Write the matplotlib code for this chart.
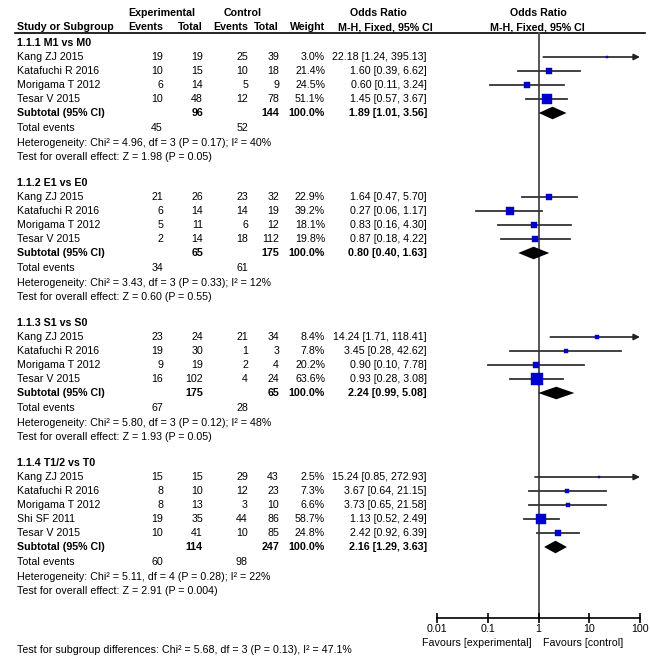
import numpy as np
import matplotlib
matplotlib.use("Agg")
import matplotlib.pyplot as plt

plt.rcParams['font.family'] = ['Liberation Sans', 'DejaVu Sans']

# ---------------- data ----------------
subgroup_titles = ["1.1.1 M1 vs M0", "1.1.2 E1 vs E0", "1.1.3 S1 vs S0", "1.1.4 T1/2 vs T0"]

studies = [
    ["Kang ZJ 2015", "Katafuchi R 2016", "Morigama T 2012", "Tesar V 2015"],
    ["Kang ZJ 2015", "Katafuchi R 2016", "Morigama T 2012", "Tesar V 2015"],
    ["Kang ZJ 2015", "Katafuchi R 2016", "Morigama T 2012", "Tesar V 2015"],
    ["Kang ZJ 2015", "Katafuchi R 2016", "Morigama T 2012", "Shi SF 2011", "Tesar V 2015"],
]
exp_events = [[19, 10, 6, 10], [21, 6, 5, 2], [23, 19, 9, 16], [15, 8, 8, 19, 10]]
exp_total = [[19, 15, 14, 48], [26, 14, 11, 14], [24, 30, 19, 102], [15, 10, 13, 35, 41]]
ctl_events = [[25, 10, 5, 12], [23, 14, 6, 18], [21, 1, 2, 4], [29, 12, 3, 44, 10]]
ctl_total = [[39, 18, 9, 78], [32, 19, 12, 112], [34, 3, 4, 24], [43, 23, 10, 86, 85]]
weights = [[3.0, 21.4, 24.5, 51.1], [22.9, 39.2, 18.1, 19.8], [8.4, 7.8, 20.2, 63.6],
           [2.5, 7.3, 6.6, 58.7, 24.8]]
odds = [[22.18, 1.60, 0.60, 1.45], [1.64, 0.27, 0.83, 0.87], [14.24, 3.45, 0.90, 0.93],
        [15.24, 3.67, 3.73, 1.13, 2.42]]
ci_lo = [[1.24, 0.39, 0.11, 0.57], [0.47, 0.06, 0.16, 0.18], [1.71, 0.28, 0.10, 0.28],
         [0.85, 0.64, 0.65, 0.52, 0.92]]
ci_hi = [[395.13, 6.62, 3.24, 3.67], [5.70, 1.17, 4.30, 4.22], [118.41, 42.62, 7.78, 3.08],
         [272.93, 21.15, 21.58, 2.49, 6.39]]

sub_exp_total = [96, 65, 175, 114]
sub_ctl_total = [144, 175, 65, 247]
sub_or = [1.89, 0.80, 2.24, 2.16]
sub_lo = [1.01, 0.40, 0.99, 1.29]
sub_hi = [3.56, 1.63, 5.08, 3.63]
tot_exp_events = [45, 34, 67, 60]
tot_ctl_events = [52, 61, 28, 98]
heterogeneity = [
    "Heterogeneity: Chi² = 4.96, df = 3 (P = 0.17); I² = 40%",
    "Heterogeneity: Chi² = 3.43, df = 3 (P = 0.33); I² = 12%",
    "Heterogeneity: Chi² = 5.80, df = 3 (P = 0.12); I² = 48%",
    "Heterogeneity: Chi² = 5.11, df = 4 (P = 0.28); I² = 22%",
]
overall = [
    "Test for overall effect: Z = 1.98 (P = 0.05)",
    "Test for overall effect: Z = 0.60 (P = 0.55)",
    "Test for overall effect: Z = 1.93 (P = 0.05)",
    "Test for overall effect: Z = 2.91 (P = 0.004)",
]
subgroup_diff = "Test for subgroup differences: Chi² = 5.68, df = 3 (P = 0.13), I² = 47.1%"
tick_values = [0.01, 0.1, 1, 10, 100]
tick_labels = ["0.01", "0.1", "1", "10", "100"]

# ---------------- layout ----------------
W, H = 650, 665
fig = plt.figure(figsize=(W / 100, H / 100), dpi=100)
ax = fig.add_axes([0, 0, 1, 1])
ax.set_xlim(0, W)
ax.set_ylim(H, 0)
ax.axis('off')

x_L0, x_R0 = 437, 640
fa = fig.add_axes([x_L0 / W, 0, (x_R0 - x_L0) / W, 1])
fa.set_xscale('log')
fa.set_xlim(0.01, 100)
fa.set_ylim(H, 0)
fa.patch.set_alpha(0)
for s in ['left', 'top', 'right']:
    fa.spines[s].set_visible(False)
axis_y = 618
fa.spines['bottom'].set_position(('data', axis_y))
fa.spines['bottom'].set_linewidth(1.2)
fa.set_yticks([])
fa.set_xticks(tick_values)
fa.set_xticklabels(tick_labels)
fa.xaxis.set_minor_locator(matplotlib.ticker.NullLocator())
fa.tick_params(axis='x', direction='inout', length=7, width=1.2, pad=1, labelsize=7.7)

FS = 7.7
col_x = [163, 203, 248, 279, 325, 427]

def t(x, y, s, ha='left', bold=False):
    ax.text(x, y, s, ha=ha, va='center', fontsize=FS,
            fontweight='bold' if bold else 'normal', color='black')

# header
t(162, 13, "Experimental", ha='center', bold=True)
t(243, 13, "Control", ha='center', bold=True)
t(378, 13, "Odds Ratio", ha='center', bold=True)
t(538, 13, "Odds Ratio", ha='center', bold=True)
t(17, 27, "Study or Subgroup", bold=True)
for x, s in zip(col_x[:5], ["Events", "Total", "Events", "Total", "Weight"]):
    t(x, 27, s, ha='right', bold=True)
t(385, 27, "M-H, Fixed, 95% CI", ha='center', bold=True)
t(537, 27, "M-H, Fixed, 95% CI", ha='center', bold=True)
ax.plot([15, 645], [32.5, 32.5], color='black', lw=1.2)

# reference line at OR = 1
fa.plot([1, 1], [32.5, axis_y], color='#555555', lw=1.4, zorder=1)

blue = '#0000CC'
for k in range(4):
    y0 = 43 + 140 * k
    t(17, y0, subgroup_titles[k], bold=True)
    n = len(studies[k])
    for i in range(n):
        y = y0 + 14 * (i + 1)
        t(17, y, studies[k][i])
        t(col_x[0], y, str(exp_events[k][i]), ha='right')
        t(col_x[1], y, str(exp_total[k][i]), ha='right')
        t(col_x[2], y, str(ctl_events[k][i]), ha='right')
        t(col_x[3], y, str(ctl_total[k][i]), ha='right')
        t(col_x[4], y, f"{weights[k][i]:.1f}%", ha='right')
        t(col_x[5], y, f"{odds[k][i]:.2f} [{ci_lo[k][i]:.2f}, {ci_hi[k][i]:.2f}]", ha='right')
        lo, hi = ci_lo[k][i], ci_hi[k][i]
        if hi > 100:
            fa.annotate('', xy=(100, y), xytext=(lo, y),
                        arrowprops=dict(arrowstyle='-|>', color='#222222', lw=1.2,
                                        mutation_scale=9, shrinkA=0, shrinkB=0))
        else:
            fa.plot([lo, hi], [y, y], color='#333333', lw=1.3, zorder=2)
        side_px = 1.38 * np.sqrt(weights[k][i])
        fa.plot([odds[k][i]], [y], marker='s', ms=side_px * 0.72, color=blue,
                mec=blue, mew=0.3, zorder=3)
    ys = y0 + 14 * (n + 1)
    t(17, ys, "Subtotal (95% CI)", bold=True)
    t(col_x[1], ys, str(sub_exp_total[k]), ha='right', bold=True)
    t(col_x[3], ys, str(sub_ctl_total[k]), ha='right', bold=True)
    t(col_x[4], ys, "100.0%", ha='right', bold=True)
    t(col_x[5], ys, f"{sub_or[k]:.2f} [{sub_lo[k]:.2f}, {sub_hi[k]:.2f}]", ha='right', bold=True)
    fa.fill([sub_lo[k], sub_or[k], sub_hi[k], sub_or[k]], [ys, ys - 6.3, ys, ys + 6.3],
            color='black', zorder=4, lw=0)
    yt = ys + 15
    t(17, yt, "Total events")
    t(col_x[0], yt, str(tot_exp_events[k]), ha='right')
    t(col_x[2], yt, str(tot_ctl_events[k]), ha='right')
    t(17, yt + 14.5, heterogeneity[k])
    t(17, yt + 29, overall[k])

# footer
t(532, 643, "Favours [experimental]", ha='right')
t(543, 643, "Favours [control]", ha='left')
t(17, 650, subgroup_diff)

fig.savefig("out.png", dpi=100)
